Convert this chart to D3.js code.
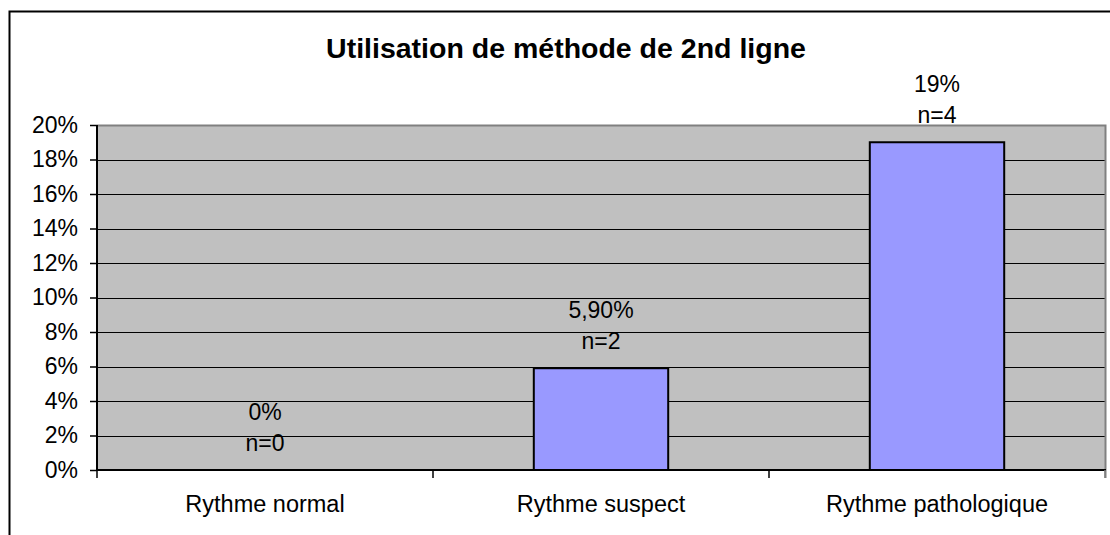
<!DOCTYPE html>
<html>
<head>
<meta charset="utf-8">
<script src="https://d3js.org/d3.v7.min.js"></script>
<style>
body { margin: 0; background: #fff; }
svg { font-family: "Liberation Sans", Arial, sans-serif; }
</style>
</head>
<body>
<script>
// data
var categories = ["Rythme normal", "Rythme suspect", "Rythme pathologique"];
var values = [0, 5.9, 19];
var pctLabels = ["0%", "5,90%", "19%"];
var nLabels = ["n=0", "n=2", "n=4"];
var yTicks = [0, 2, 4, 6, 8, 10, 12, 14, 16, 18, 20];
var title = "Utilisation de méthode de 2nd ligne";

var W = 1110, H = 535;
var plot = { left: 97, top: 125, right: 1105, bottom: 470 };
var fs = 23;

var svg = d3.select("body").append("svg")
    .attr("width", W).attr("height", H);

// outer chart frame (runs off the right and bottom)
svg.append("rect")
    .attr("x", 9.5).attr("y", 11.5)
    .attr("width", W + 20).attr("height", H + 20)
    .attr("fill", "#fff").attr("stroke", "#000").attr("stroke-width", 2);

var x = d3.scaleBand().domain(categories)
    .range([plot.left, plot.right]).paddingInner(0).paddingOuter(0);
var y = d3.scaleLinear().domain([0, 20]).range([plot.bottom, plot.top]);

// plot area
svg.append("rect")
    .attr("x", plot.left).attr("y", plot.top)
    .attr("width", plot.right - plot.left).attr("height", plot.bottom - plot.top)
    .attr("fill", "#c0c0c0");

// gridlines
svg.append("g").selectAll("line")
    .data(yTicks.filter(function(d){ return d > 0 && d < 20; }))
    .enter().append("line")
    .attr("x1", plot.left).attr("x2", plot.right)
    .attr("y1", function(d){ return Math.round(y(d)) + 0.5; })
    .attr("y2", function(d){ return Math.round(y(d)) + 0.5; })
    .attr("stroke", "#000").attr("stroke-width", 1);

// plot border top/right in gray
svg.append("path")
    .attr("d", "M" + plot.left + "," + (plot.top + 0.5) + "H" + (plot.right + 0.5) + "V" + (plot.bottom + 8))
    .attr("fill", "none").attr("stroke", "#808080").attr("stroke-width", 2);

// bars
var bw = x.bandwidth() / 2.5;
svg.append("g").selectAll("rect")
    .data(values.map(function(v, i){ return { c: categories[i], v: v }; }).filter(function(d){ return d.v > 0; }))
    .enter().append("rect")
    .attr("x", function(d){ return x(d.c) + (x.bandwidth() - bw) / 2; })
    .attr("y", function(d){ return y(d.v); })
    .attr("width", bw)
    .attr("height", function(d){ return plot.bottom - y(d.v); })
    .attr("fill", "#9999ff").attr("stroke", "#000").attr("stroke-width", 2);

// y axis
var yAxis = d3.axisLeft(y).tickValues(yTicks)
    .tickFormat(function(d){ return d + "%"; })
    .tickSize(7).tickPadding(12);
var gy = svg.append("g").attr("transform", "translate(" + plot.left + ",0)").call(yAxis);
gy.select(".domain").attr("stroke", "#000").attr("stroke-width", 2).attr("d", "M0," + plot.top + "V" + plot.bottom);
gy.selectAll(".tick line").attr("stroke", "#000").attr("stroke-width", 1.5);
gy.selectAll("text").attr("font-size", fs).attr("fill", "#000")
    .attr("font-family", "Liberation Sans, Arial, sans-serif");

// x axis line + ticks at band edges
svg.append("line")
    .attr("x1", plot.left).attr("x2", plot.right + 1)
    .attr("y1", plot.bottom).attr("y2", plot.bottom)
    .attr("stroke", "#000").attr("stroke-width", 2);
var edges = categories.map(function(c){ return x(c); }).concat([plot.right]);
svg.append("g").selectAll("line")
    .data(edges).enter().append("line")
    .attr("x1", function(d){ return d; }).attr("x2", function(d){ return d; })
    .attr("y1", plot.bottom).attr("y2", plot.bottom + 8)
    .attr("stroke", function(d, i){ return i === edges.length - 1 ? "#808080" : "#000"; })
    .attr("stroke-width", 1.5);

svg.append("g").selectAll("text")
    .data(categories).enter().append("text")
    .attr("x", function(d){ return x(d) + x.bandwidth() / 2; })
    .attr("y", 512)
    .attr("text-anchor", "middle").attr("font-size", fs + 0.5).attr("fill", "#000")
    .text(function(d){ return d; });

// data labels
var lab = svg.append("g").selectAll("g")
    .data(values).enter().append("g")
    .attr("transform", function(d, i){
        return "translate(" + (x(categories[i]) + x.bandwidth() / 2) + "," + y(d) + ")";
    });
lab.append("text")
    .attr("y", -50).attr("text-anchor", "middle").attr("font-size", fs)
    .text(function(d, i){ return pctLabels[i]; });
lab.append("text")
    .attr("y", -19).attr("text-anchor", "middle").attr("font-size", fs)
    .text(function(d, i){ return nLabels[i]; });

// title
svg.append("text")
    .attr("x", 566).attr("y", 58)
    .attr("text-anchor", "middle").attr("font-size", 28.5).attr("font-weight", "bold")
    .text(title);
</script>
</body>
</html>
